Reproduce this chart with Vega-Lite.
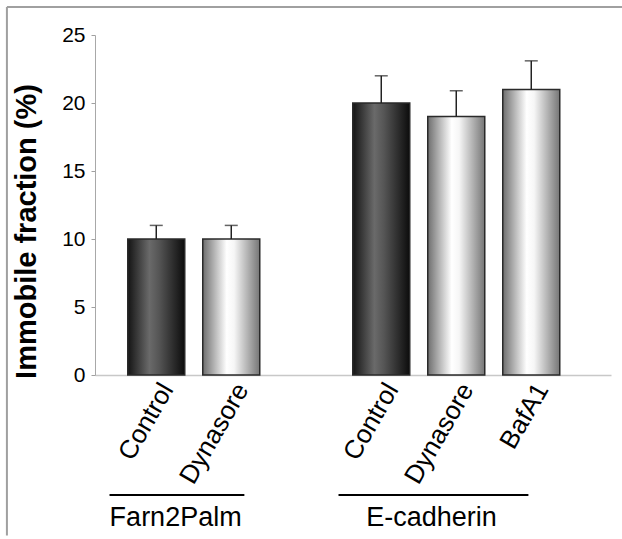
{
  "$schema": "https://vega.github.io/schema/vega-lite/v6.json",
  "autosize": "none",
  "padding": {"left": 95, "top": 35, "right": 11, "bottom": 164},
  "width": 516,
  "height": 340,
  "background": "white",
  "config": {"view": {"stroke": null}, "font": "Liberation Sans"},
  "datasets": {
    "bars": [
      {"key": "F:Control", "group": "Farn2Palm", "kind": "Control", "value": 10, "upper": 11},
      {"key": "F:Dynasore", "group": "Farn2Palm", "kind": "Dynasore", "value": 10, "upper": 11},
      {"key": "E:Control", "group": "E-cadherin", "kind": "Control", "value": 20, "upper": 22},
      {"key": "E:Dynasore", "group": "E-cadherin", "kind": "Dynasore", "value": 19, "upper": 20.9},
      {"key": "E:BafA1", "group": "E-cadherin", "kind": "BafA1", "value": 21, "upper": 23.1}
    ],
    "groups": [
      {"group": "Farn2Palm", "from": "F:Control", "to": "F:Dynasore"},
      {"group": "E-cadherin", "from": "E:Control", "to": "E:BafA1"}
    ],
    "frame": [
      {"from": "F:Control", "to": "E:BafA1"}
    ]
  },
  "layer": [
    {
      "data": {"name": "bars"},
      "mark": {"type": "bar", "stroke": "#2a2a2a", "strokeWidth": 1.5},
      "encoding": {
        "x": {
          "field": "key", "type": "nominal",
          "scale": {"domain": ["F:Control", "F:Dynasore", "G:", "E:Control", "E:Dynasore", "E:BafA1"], "paddingInner": 0.24, "paddingOuter": 0.56, "align": 0.39},
          "axis": {
            "title": null, "labelExpr": "slice(datum.value, 2)", "labelAngle": -60, "labelAlign": "right", "labelBaseline": "middle",
            "labelFontSize": 26, "labelColor": "black", "labelPadding": 10, "labelOffset": 11, "ticks": false, "domainColor": "#c8c8c8", "domainWidth": 1.5
          }
        },
        "y": {
          "field": "value", "type": "quantitative",
          "scale": {"domain": [0, 25], "nice": false},
          "axis": {
            "title": "Immobile fraction (%)", "values": [0, 5, 10, 15, 20, 25], "grid": false,
            "labelFontSize": 21, "labelColor": "black", "labelPadding": 6,
            "tickSize": 4, "tickColor": "#a0a0a0", "domainColor": "#a8a8a8",
            "titleFontSize": 29, "titleFontWeight": "bold", "titleColor": "black",
            "titleX": -54, "titleY": 196, "titleAlign": "center", "titleAngle": -90, "titleBaseline": "bottom"
          }
        },
        "fill": {
          "condition": {
            "test": "datum.kind === 'Control'",
            "value": {"gradient": "linear", "x1": 0, "x2": 1, "y1": 0, "y2": 0,
              "stops": [{"offset": 0, "color": "#141414"}, {"offset": 0.38, "color": "#6a6a6a"}, {"offset": 0.55, "color": "#555555"}, {"offset": 1, "color": "#0c0c0c"}]}
          },
          "value": {"gradient": "linear", "x1": 0, "x2": 1, "y1": 0, "y2": 0,
            "stops": [{"offset": 0, "color": "#6e6e6e"}, {"offset": 0.42, "color": "#ffffff"}, {"offset": 0.55, "color": "#f6f6f6"}, {"offset": 1, "color": "#767676"}]}
        }
      }
    },
    {
      "data": {"name": "bars"},
      "mark": {"type": "rule", "color": "#222", "strokeWidth": 1.5},
      "encoding": {
        "x": {"field": "key", "type": "nominal"},
        "y": {"field": "value", "type": "quantitative"},
        "y2": {"field": "upper"}
      }
    },
    {
      "data": {"name": "bars"},
      "mark": {"type": "tick", "color": "#222", "thickness": 1.5, "size": 13},
      "encoding": {
        "x": {"field": "key", "type": "nominal"},
        "y": {"field": "upper", "type": "quantitative"}
      }
    },
    {
      "data": {"name": "groups"},
      "transform": [{"filter": "datum.group === 'Farn2Palm'"}],
      "layer": [
        {
          "mark": {"type": "rule", "color": "black", "strokeWidth": 2},
          "encoding": {
            "x": {"field": "from", "type": "nominal", "bandPosition": -0.32},
            "x2": {"field": "to", "bandPosition": 0.73},
            "y": {"datum": -8.82}
          }
        },
        {
          "mark": {"type": "text", "fontSize": 27, "baseline": "alphabetic", "align": "center", "color": "black"},
          "encoding": {
            "x": {"field": "from", "type": "nominal", "bandPosition": 0.84},
            "y": {"datum": -11.1},
            "text": {"field": "group"}
          }
        }
      ]
    },
    {
      "data": {"name": "groups"},
      "transform": [{"filter": "datum.group === 'E-cadherin'"}],
      "layer": [
        {
          "mark": {"type": "rule", "color": "black", "strokeWidth": 2},
          "encoding": {
            "x": {"field": "from", "type": "nominal", "bandPosition": -0.25},
            "x2": {"field": "to", "bandPosition": 0.45},
            "y": {"datum": -8.82}
          }
        },
        {
          "mark": {"type": "text", "fontSize": 27, "baseline": "alphabetic", "align": "center", "color": "black"},
          "encoding": {
            "x": {"field": "to", "type": "nominal", "bandPosition": -1.25},
            "y": {"datum": -11.1},
            "text": {"field": "group"}
          }
        }
      ]
    },
    {
      "data": {"name": "frame"},
      "layer": [
        {
          "mark": {"type": "rule", "color": "#a0a0a0", "strokeWidth": 2},
          "encoding": {
            "x": {"field": "from", "type": "nominal", "bandPosition": -2.12},
            "x2": {"field": "to", "bandPosition": 2.2},
            "y": {"datum": 27.06}
          }
        },
        {
          "mark": {"type": "rule", "color": "#a0a0a0", "strokeWidth": 2},
          "encoding": {
            "x": {"field": "from", "type": "nominal", "bandPosition": -2.12},
            "y": {"datum": 27.06},
            "y2": {"datum": -11.8}
          }
        }
      ]
    }
  ]
}
